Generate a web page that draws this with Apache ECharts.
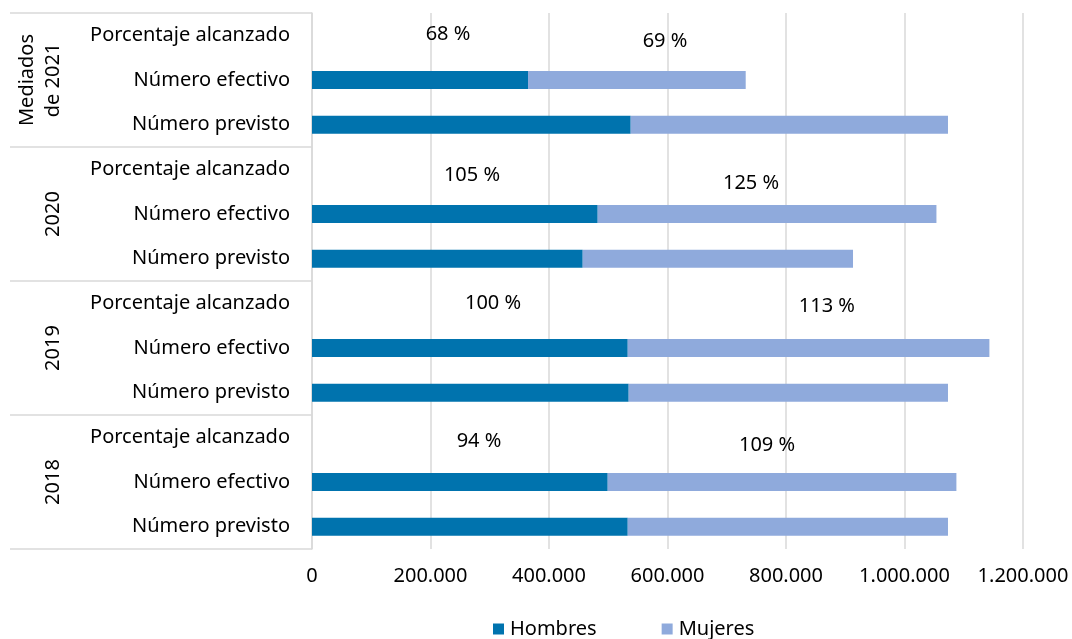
<!DOCTYPE html>
<html>
<head>
<meta charset="utf-8">
<script src="https://cdn.jsdelivr.net/npm/echarts@6/dist/echarts.min.js"></script>
<style>
html,body{margin:0;padding:0;background:#fff;}
#chart{width:1072px;height:639px;}
</style>
</head>
<body>
<div id="chart"></div>
<script>
// Categories listed bottom to top
var rowLabels = ['Número previsto', 'Número efectivo', 'Porcentaje alcanzado'];
var groups = ['2018', '2019', '2020', 'Mediados\nde 2021'];

// Values per group (2018, 2019, 2020, mediados de 2021)
var hombresPrevisto = [532900, 534500, 456900, 537900];
var mujeresPrevisto = [540500, 538900, 456200, 535500];
var hombresEfectivo = [499100, 532900, 482200, 364600];
var mujeresEfectivo = [588500, 610400, 571700, 367400];

// Percentage achieved labels
var pctHombres = ['94 %', '100 %', '105 %', '68 %'];
var pctMujeres = ['109 %', '113 %', '125 %', '69 %'];
// x anchor (in axis units) where each percentage text sits
var pctHombresAnchor = [281900, 305500, 270000, 229500];
var pctMujeresAnchor = [768000, 869000, 741000, 595800];

// label vertical nudges (layout only, px)
var LBL_DY_H = [4, 0, 6, -1];
var LBL_DY_M = [8, 3, 14, 6];

var categories = [];
var hombresData = [];
var mujeresData = [];
groups.forEach(function (g, i) {
  categories.push(rowLabels[0], rowLabels[1], rowLabels[2]);
  hombresData.push(hombresPrevisto[i], hombresEfectivo[i], null);
  mujeresData.push(mujeresPrevisto[i], mujeresEfectivo[i], null);
});
var pctData = [];
groups.forEach(function (g, i) {
  var idx = i * 3 + 2;
  pctData.push({ value: [pctHombresAnchor[i], idx], label: { formatter: pctHombres[i], offset: [0, LBL_DY_H[i]] } });
  pctData.push({ value: [pctMujeresAnchor[i], idx], label: { formatter: pctMujeres[i], offset: [0, LBL_DY_M[i]] } });
});

var FONT = 'Noto Sans';
var FS = 20;
var chart = echarts.init(document.getElementById('chart'));
chart.setOption({
  animation: false,
  textStyle: { fontFamily: FONT },
  grid: { left: 312, right: 49, top: 13, bottom: 90, containLabel: false },
  legend: {
    top: 619,
    left: 493,
    padding: 0,
    icon: 'rect',
    itemWidth: 11,
    itemHeight: 11,
    itemGap: 65,
    itemStyle: { borderWidth: 0 },
    data: ['Hombres', 'Mujeres'],
    textStyle: { fontFamily: FONT, fontSize: FS, color: '#000', padding: [0, 0, 0, 1] }
  },
  xAxis: {
    type: 'value',
    min: 0,
    max: 1200000,
    interval: 200000,
    axisLine: { show: false },
    axisTick: { show: false },
    splitLine: { lineStyle: { color: '#d9d9d9', width: 1.5 } },
    axisLabel: {
      margin: 17,
      fontFamily: FONT,
      fontSize: FS,
      color: '#000',
      formatter: function (v) { return v.toString().replace(/\B(?=(\d{3})+(?!\d))/g, '.'); }
    }
  },
  yAxis: [
    {
      type: 'category',
      data: categories,
      position: 'left',
      axisLine: { show: true, lineStyle: { color: '#d9d9d9', width: 1.5 } },
      axisTick: { show: false },
      axisLabel: { margin: 22, fontFamily: FONT, fontSize: FS, color: '#000' }
    },
    {
      type: 'category',
      data: groups,
      position: 'left',
      axisLine: { show: false },
      axisTick: { show: true, length: 302, lineStyle: { color: '#d9d9d9', width: 1.5 } },
      axisLabel: { rotate: 90, margin: 246, fontFamily: FONT, fontSize: FS, color: '#000', lineHeight: 26 },
      splitLine: { show: false }
    }
  ],
  series: [
    {
      name: 'Hombres',
      type: 'bar',
      stack: 'total',
      yAxisIndex: 0,
      barWidth: 18,
      itemStyle: { color: '#0073ae' },
      data: hombresData
    },
    {
      name: 'Mujeres',
      type: 'bar',
      stack: 'total',
      yAxisIndex: 0,
      barWidth: 18,
      itemStyle: { color: '#8faadc' },
      data: mujeresData
    },
    {
      name: 'pct',
      type: 'scatter',
      yAxisIndex: 0,
      symbolSize: 0,
      silent: true,
      itemStyle: { opacity: 1 },
      label: { show: true, position: 'inside', fontFamily: FONT, fontSize: FS, color: '#000', opacity: 1, textBorderWidth: 0 },
      data: pctData
    }
  ]
});
</script>
</body>
</html>
